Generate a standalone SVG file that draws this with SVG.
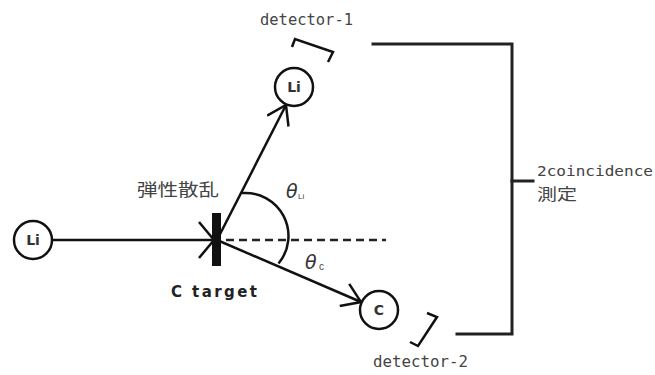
<svg xmlns="http://www.w3.org/2000/svg" width="655" height="375" viewBox="0 0 655 375">
<style>
.ln{stroke:#111;stroke-width:2.5;fill:none}
.dash{stroke:#222;stroke-width:2.5;fill:none;stroke-dasharray:8 5}
.br{stroke:#222;stroke-width:3;fill:none;stroke-linecap:square}
.det{stroke:#111;stroke-width:2.5;fill:none;stroke-linejoin:miter}
.node{stroke:#111;stroke-width:2.5;fill:#fff}
.nl{font-family:"DejaVu Sans",sans-serif;font-weight:bold;font-size:14px;fill:#333;text-anchor:middle}
.t{font-family:"Liberation Sans",Arial,sans-serif;fill:#444}
.mono{font-family:"DejaVu Sans Mono",monospace;fill:#444}
.cjk{font-family:"Noto Sans CJK JP",sans-serif;fill:#444}
.th{font-family:"DejaVu Sans",sans-serif;font-style:italic;fill:#333}
</style>
<defs>
<marker id="arr" markerUnits="userSpaceOnUse" viewBox="0 0 20 26" refX="19" refY="13" markerWidth="20" markerHeight="26" orient="auto">
<path d="M1,1 L19,13 L1,25" fill="none" stroke="#111" stroke-width="2.5"/>
</marker>
<marker id="arrW" markerUnits="userSpaceOnUse" viewBox="0 0 18 38" refX="16" refY="19" markerWidth="18" markerHeight="38" orient="auto">
<path d="M1,1 L16,19 L1,37" fill="none" stroke="#111" stroke-width="2.5"/>
</marker>
</defs>

<g id="connectors">
<line class="ln" x1="53" y1="240" x2="214" y2="240" marker-end="url(#arrW)"/>
<line class="ln" x1="217" y1="240" x2="286" y2="105" marker-end="url(#arr)"/>
<line class="ln" x1="217" y1="240" x2="361" y2="302" marker-end="url(#arr)"/>
<line class="dash" x1="226" y1="240" x2="386" y2="240"/>
<path class="ln" d="M242,193.1 A43,43 0 0 1 278.5,263.5"/>
<polyline class="br" points="373,44 512,44 512,334 457,334"/>
<line class="br" x1="512" y1="181" x2="533" y2="181"/>
</g>

<g id="target">
<rect x="212" y="213" width="9" height="53" fill="#111"/>
<text x="214" y="297" font-family="DejaVu Sans,sans-serif" font-size="15" font-weight="bold" text-anchor="middle" textLength="86" lengthAdjust="spacing" fill="#222">C target</text>
</g>

<g id="li-in">
<circle class="node" cx="33" cy="240" r="19"/>
<text class="nl" x="33" y="245">Li</text>
</g>

<g id="li-out">
<circle class="node" cx="294" cy="87" r="19"/>
<text class="nl" x="294" y="92">Li</text>
</g>

<g id="c-out">
<circle class="node" cx="379" cy="310" r="19"/>
<text class="nl" x="379" y="315">C</text>
</g>

<g id="detector-1">
<polyline class="det" points="292,47 295,39 333,52 328,62"/>
<text class="mono" x="260" y="25" font-size="15" textLength="93" lengthAdjust="spacingAndGlyphs">detector-1</text>
</g>

<g id="detector-2">
<polyline class="det" points="427,313 437,317 418,346 410,342"/>
<text class="mono" x="373" y="367" font-size="15" textLength="95" lengthAdjust="spacingAndGlyphs">detector-2</text>
</g>

<g id="labels">
<text class="cjk" x="137" y="196" font-size="17" textLength="82" lengthAdjust="spacingAndGlyphs">弾性散乱</text>
<text class="th" x="286" y="198" font-size="19">θ</text>
<text class="t" x="298" y="199" font-size="8">Li</text>
<text class="th" x="305" y="269" font-size="19">θ</text>
<text class="t" x="319" y="270" font-size="10">c</text>
<text class="mono" x="537" y="176" font-size="14" textLength="116" lengthAdjust="spacingAndGlyphs">2coincidence</text>
<text class="cjk" x="537" y="200" font-size="16" textLength="40" lengthAdjust="spacingAndGlyphs">測定</text>
</g>
</svg>
